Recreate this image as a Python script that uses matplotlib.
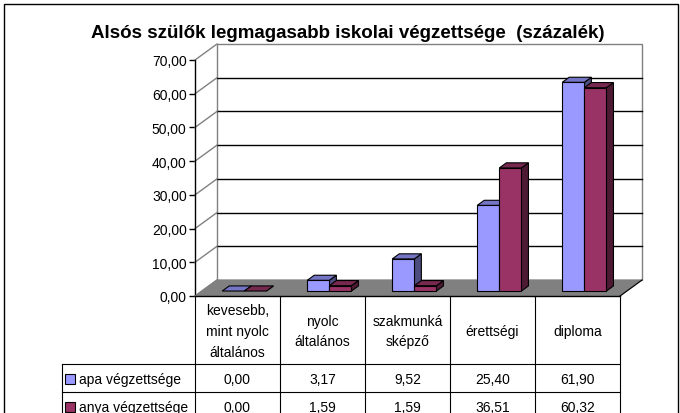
import matplotlib
matplotlib.use("Agg")
import matplotlib.pyplot as plt
from matplotlib.patches import Polygon, Rectangle
from matplotlib.lines import Line2D
import matplotlib.transforms as mtransforms

plt.rcParams['font.family'] = ['Liberation Sans', 'DejaVu Sans']

# ---- data ----
categories = ["kevesebb,\nmint nyolc\náltalános", "nyolc\náltalános",
              "szakmunká\nsképző", "érettségi", "diploma"]
series_names = ["apa végzettsége", "anya végzettsége"]
apa = [0.00, 3.17, 9.52, 25.40, 61.90]
anya = [0.00, 1.59, 1.59, 36.51, 60.32]
yticks = [0, 10, 20, 30, 40, 50, 60, 70]
title = "Alsós szülők legmagasabb iskolai végzettsége  (százalék)"

# ---- style ----
front_col = ["#9999FF", "#993366"]
top_col = ["#7575C6", "#76284F"]
side_col = ["#4D4D80", "#4D1A33"]
FS = 10

W, H = 680, 414
fig = plt.figure(figsize=(W / 100, H / 100), dpi=100)

def fx(px):
    return px / W

def fy(py):
    return 1 - py / H

# front plane of the plot area (pixels)
L, R, T, B = 195, 620, 61, 297
ax = fig.add_axes([fx(L), fy(B), fx(R - L), (B - T) / H])
ax.set_xlim(0, len(categories))
ax.set_ylim(0, 70)
ax.patch.set_visible(False)
for s in ["top", "right", "bottom"]:
    ax.spines[s].set_visible(False)
ax.spines["left"].set_linewidth(1.0)
ax.set_xticks([])
ax.set_yticks(yticks)
ax.set_yticklabels([f"{v:.2f}".replace(".", ",") for v in yticks])
ax.tick_params(axis="y", direction="out", length=4, width=1, pad=2, labelsize=FS)

# depth offset (pixels -> data units)
DXP, DYP = 22, 16
ux = (R - L) / len(categories)
uy = (B - T) / 70.0
DX, DY = DXP / ux, DYP / uy

def P(x, y, f):
    return (x + DX * f, y + DY * f)

# back wall
ax.add_patch(Polygon([P(0, 0, 1), P(5, 0, 1), P(5, 70, 1), P(0, 70, 1)],
                     closed=True, facecolor="white", edgecolor="#808080",
                     lw=1, zorder=1, clip_on=False))
for v in yticks[1:-1]:
    ax.add_line(Line2D(*zip(P(0, v, 1), P(5, v, 1)), color="black", lw=1,
                       zorder=2, clip_on=False))
# side wall diagonals
for v in yticks:
    ax.add_line(Line2D(*zip(P(0, v, 0), P(0, v, 1)), color="#808080", lw=1,
                       zorder=2, clip_on=False))
# floor
ax.add_patch(Polygon([P(0, 0, 0), P(5, 0, 0), P(5, 0, 1), P(0, 0, 1)],
                     closed=True, facecolor="#808080", edgecolor="#808080",
                     lw=0.8, zorder=3, clip_on=False))
ax.add_line(Line2D(*zip(P(5, 0, 0), P(5, 0, 1)), color="black", lw=0.8,
                   zorder=3, clip_on=False))
ax.add_line(Line2D([0, 5], [0, 0], color="black", lw=1, zorder=3, clip_on=False))

# bars
bw = 0.26
f0, f1 = 0.31, 0.63
z = 4
for i in range(len(categories)):
    for k, vals in enumerate([apa, anya]):
        v = vals[i]
        x0 = i + 0.5 - bw + k * bw
        x1 = x0 + bw
        ec = "black"
        ax.add_patch(Polygon([P(x1, 0, f0), P(x1, 0, f1), P(x1, v, f1), P(x1, v, f0)],
                             closed=True, facecolor=side_col[k], edgecolor=ec,
                             lw=0.8, zorder=z, clip_on=False))
        ax.add_patch(Polygon([P(x0, v, f0), P(x1, v, f0), P(x1, v, f1), P(x0, v, f1)],
                             closed=True, facecolor=top_col[k], edgecolor=ec,
                             lw=0.8, zorder=z, clip_on=False))
        if v > 0:
            ax.add_patch(Polygon([P(x0, 0, f0), P(x1, 0, f0), P(x1, v, f0), P(x0, v, f0)],
                                 closed=True, facecolor=front_col[k], edgecolor=ec,
                                 lw=0.8, zorder=z, clip_on=False))
        z += 1

# ---- data table ----
bt = mtransforms.blended_transform_factory(ax.transData, fig.transFigure)
hdr_top, hdr_bot = 297, 365
row_h = 28
legend_left = (62 - L) / ux
line_kw = dict(color="black", lw=0.8, transform=bt, clip_on=False)

bottom_px = hdr_bot + 2 * row_h
for c in range(len(categories) + 1):
    ax.add_line(Line2D([c, c], [fy(hdr_top), fy(bottom_px)], **line_kw))
ax.add_line(Line2D([legend_left, legend_left], [fy(hdr_bot), fy(bottom_px)], **line_kw))
for r in range(3):
    yy = hdr_bot + r * row_h
    ax.add_line(Line2D([legend_left, 5], [fy(yy), fy(yy)], **line_kw))

for c, name in enumerate(categories):
    ax.text(c + 0.5, fy((hdr_top + hdr_bot) / 2 + 1), name, transform=bt,
            ha="center", va="center", fontsize=FS, linespacing=1.6, clip_on=False)

for r, (nm, vals) in enumerate(zip(series_names, [apa, anya])):
    yc = hdr_bot + r * row_h + row_h / 2 + 1
    kx = legend_left + 3 / ux
    ax.add_patch(Rectangle((kx, fy(yc + 5)), 10 / ux, 10 / H, transform=bt,
                           facecolor=front_col[r], edgecolor="black", lw=0.8,
                           clip_on=False))
    ax.text(kx + 14 / ux, fy(yc), nm, transform=bt, ha="left", va="center",
            fontsize=FS, clip_on=False)
    for c, v in enumerate(vals):
        ax.text(c + 0.5, fy(yc), f"{v:.2f}".replace(".", ","), transform=bt,
                ha="center", va="center", fontsize=FS, clip_on=False)

# title
fig.text(fx(348), fy(33), title, ha="center", va="center", fontsize=13.5,
         fontweight="bold")

# outer frame
fig.add_artist(Rectangle((fx(4), fy(430)), fx(674), (430 - 5) / H,
                         transform=fig.transFigure, facecolor="none",
                         edgecolor="black", lw=1))

fig.savefig("out.png", dpi=100)
